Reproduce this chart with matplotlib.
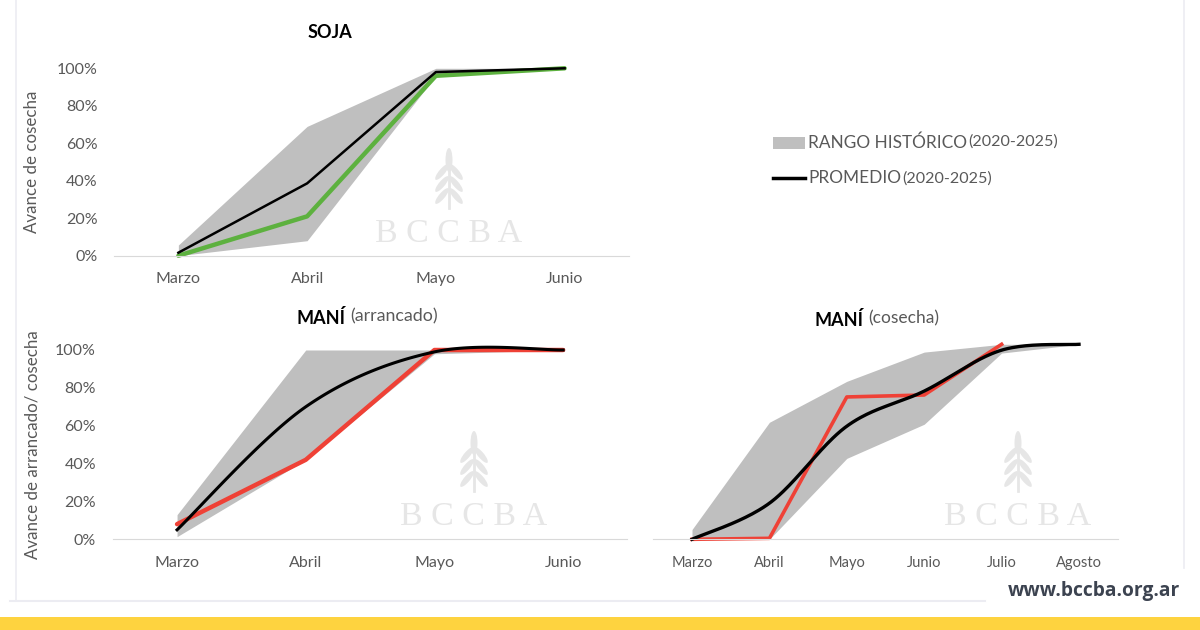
import numpy as np
import matplotlib
matplotlib.use("Agg")
import matplotlib.pyplot as plt
from matplotlib.patches import Rectangle, Ellipse

plt.rcParams['font.family'] = ['Lato', 'DejaVu Sans']

# ---- data (fractions 0..1) ----
meses_soja = ["Marzo", "Abril", "Mayo", "Junio"]
soja_min = [0.00, 0.08, 0.96, 1.00]
soja_max = [0.057, 0.69, 1.00, 1.00]
soja_prom = [0.016, 0.386, 0.98, 1.00]
soja_2025 = [0.00, 0.21, 0.96, 1.00]

meses_arr = ["Marzo", "Abril", "Mayo", "Junio"]
arr_min = [0.014, 0.42, 0.98, 1.00]
arr_max = [0.13, 1.00, 1.00, 1.00]
arr_prom = [0.05, 0.70, 0.99, 1.00]
arr_2025 = [0.08, 0.42, 1.00, 1.00]

meses_cos = ["Marzo", "Abril", "Mayo", "Junio", "Julio", "Agosto"]
cos_min = [0.00, 0.00, 0.415, 0.59, 0.955, 1.00]
cos_max = [0.05, 0.60, 0.81, 0.96, 1.00, 1.00]
cos_prom = [0.00, 0.185, 0.58, 0.76, 0.97, 1.00]
cos_2025 = [0.00, 0.005, 0.73, 0.74, 1.00]

GRIS = "#bfbfbf"
VERDE = "#5db13f"
ROJO = "#ef4136"
TXT = "#595959"
MARCA = "#e6e6e6"


def smooth(xs, ys, n=40):
    # Catmull-Rom like Excel's smoothed line
    pts = np.column_stack([xs, ys]).astype(float)
    out = []
    for i in range(len(pts) - 1):
        p0 = pts[i - 1] if i > 0 else pts[i]
        p1, p2 = pts[i], pts[i + 1]
        p3 = pts[i + 2] if i + 2 < len(pts) else pts[i + 1]
        m1 = (p2 - p0) / 2
        m2 = (p3 - p1) / 2
        t = np.linspace(0, 1, n)[:, None]
        h00 = 2 * t**3 - 3 * t**2 + 1
        h10 = t**3 - 2 * t**2 + t
        h01 = -2 * t**3 + 3 * t**2
        h11 = t**3 - t**2
        out.append(h00 * p1 + h10 * m1 + h01 * p2 + h11 * m2)
    out = np.vstack(out)
    return out[:, 0], out[:, 1]


fig = plt.figure(figsize=(12, 6.3), dpi=100)

# overlay in pixel coordinates for page decorations
bg = fig.add_axes([0, 0, 1, 1], zorder=0)
bg.set_xlim(0, 1200)
bg.set_ylim(630, 0)
bg.axis("off")

# frames
bg.plot([16, 16], [0, 600], color="#ececf2", lw=1.2)
bg.plot([10, 985], [601, 601], color="#ececf2", lw=1.5)
bg.plot([1184, 1184], [0, 568], color="#ececf2", lw=1.2)
bg.add_patch(Rectangle((0, 617), 1200, 13, color="#fed33f", lw=0))
bg.text(1180, 591, "www.bccba.org.ar", ha="right", va="center",
        fontsize=13.8, fontweight="bold", color="#3c4350",
        family=["Open Sans", "DejaVu Sans"])


def marca(cx, top):
    # wheat icon + BCCBA text watermark
    bg.plot([cx, cx], [top + 10, top + 60], color=MARCA, lw=2)
    bg.add_patch(Ellipse((cx, top + 12), 7, 24, color=MARCA, lw=0))
    for k in range(3):
        yy = top + 24 + k * 12
        bg.add_patch(Ellipse((cx - 7, yy), 6, 20, angle=40, color=MARCA, lw=0))
        bg.add_patch(Ellipse((cx + 7, yy), 6, 20, angle=-40, color=MARCA, lw=0))
    bg.text(cx, top + 86, "B C C B A", ha="center", va="center", fontsize=24.5,
            color=MARCA, family=["Liberation Serif", "DejaVu Serif"])


marca(449, 148)
marca(474, 431)
marca(1018, 431)

# legend
bg.add_patch(Rectangle((773, 137), 32, 12, color=GRIS, lw=0))
bg.plot([773, 805], [178, 178], color="black", lw=2.5)
bg.text(808, 143, "RANGO HISTÓRICO", va="center", fontsize=12.4, color=TXT)
bg.text(968, 142, "(2020-2025)", va="center", fontsize=11.6, color=TXT)
bg.text(808, 178, "PROMEDIO", va="center", fontsize=12.4, color=TXT)
bg.text(902, 179, "(2020-2025)", va="center", fontsize=11.6, color=TXT)


def base(rect, meses, ylabels):
    ax = fig.add_axes(rect, zorder=1)
    ax.set_facecolor("none")
    ax.set_xlim(-0.5, len(meses) - 0.5)
    ax.set_ylim(0, 1)
    for s in ["top", "right", "left"]:
        ax.spines[s].set_visible(False)
    ax.spines["bottom"].set_color("#d9d9d9")
    ax.set_xticks(range(len(meses)))
    ax.set_xticklabels(meses)
    ax.tick_params(axis="x", length=0, pad=12, labelsize=11.5, labelcolor=TXT)
    if ylabels:
        ax.set_yticks(np.linspace(0, 1, 6))
        ax.set_yticklabels([f"{int(v)}%" for v in np.linspace(0, 100, 6)])
        ax.tick_params(axis="y", length=0, pad=12, labelsize=11.5, labelcolor=TXT)
    else:
        ax.set_yticks([])
    return ax


# SOJA
ax1 = base([114 / 1200, 1 - 255.7 / 630, 515 / 1200, 187.4 / 630], meses_soja, True)
x = np.arange(len(meses_soja))
ax1.fill_between(x, soja_min, soja_max, color=GRIS, lw=0, clip_on=False)
ax1.plot(x, soja_2025, color=VERDE, lw=3.2, clip_on=False, solid_capstyle="round")
ax1.plot(x, soja_prom, color="black", lw=1.8, clip_on=False)
ax1.set_ylabel("Avance de cosecha", fontsize=12.2, color=TXT)
ax1.yaxis.set_label_coords(-0.143, 0.5)
fig.text(330 / 1200, 1 - 32 / 630, "SOJA", ha="center", va="center",
         fontsize=13, fontweight="bold", color="black")

# MANI arrancado
ax2 = base([112.7 / 1200, 1 - 539.3 / 630, 514.8 / 1200, 189.3 / 630], meses_arr, True)
x = np.arange(len(meses_arr))
ax2.fill_between(x, arr_min, arr_max, color=GRIS, lw=0, clip_on=False)
ax2.plot(x, arr_2025, color=ROJO, lw=3.2, clip_on=False, solid_capstyle="round")
sx, sy = smooth(x, arr_prom)
ax2.plot(sx, sy, color="black", lw=2.2, clip_on=False)
ax2.set_ylabel("Avance de arrancado/ cosecha", fontsize=12.2, color=TXT)
ax2.yaxis.set_label_coords(-0.141, 0.5)
fig.text(346 / 1200, 1 - 318 / 630, "MANÍ", ha="right", va="center",
         fontsize=13, fontweight="bold", color="black")
fig.text(350 / 1200, 1 - 316 / 630, "(arrancado)", ha="left", va="center",
         fontsize=12.8, color=TXT)

# MANI cosecha
ax3 = base([653.3 / 1200, 1 - 539.3 / 630, 464.4 / 1200, 195 / 630], meses_cos, False)
x = np.arange(len(meses_cos))
ax3.fill_between(x, cos_min, cos_max, color=GRIS, lw=0, clip_on=False)
ax3.plot(np.arange(len(cos_2025)), cos_2025, color=ROJO, lw=2.6, clip_on=False)
sx, sy = smooth(x, cos_prom)
ax3.plot(sx, sy, color="black", lw=2.4, clip_on=False)
ax3.tick_params(axis="x", labelsize=10.5)
fig.text(863 / 1200, 1 - 320 / 630, "MANÍ", ha="right", va="center",
         fontsize=13, fontweight="bold", color="black")
fig.text(868 / 1200, 1 - 318 / 630, "(cosecha)", ha="left", va="center",
         fontsize=12.5, color=TXT)

fig.savefig("out.png", dpi=100, facecolor="white")
